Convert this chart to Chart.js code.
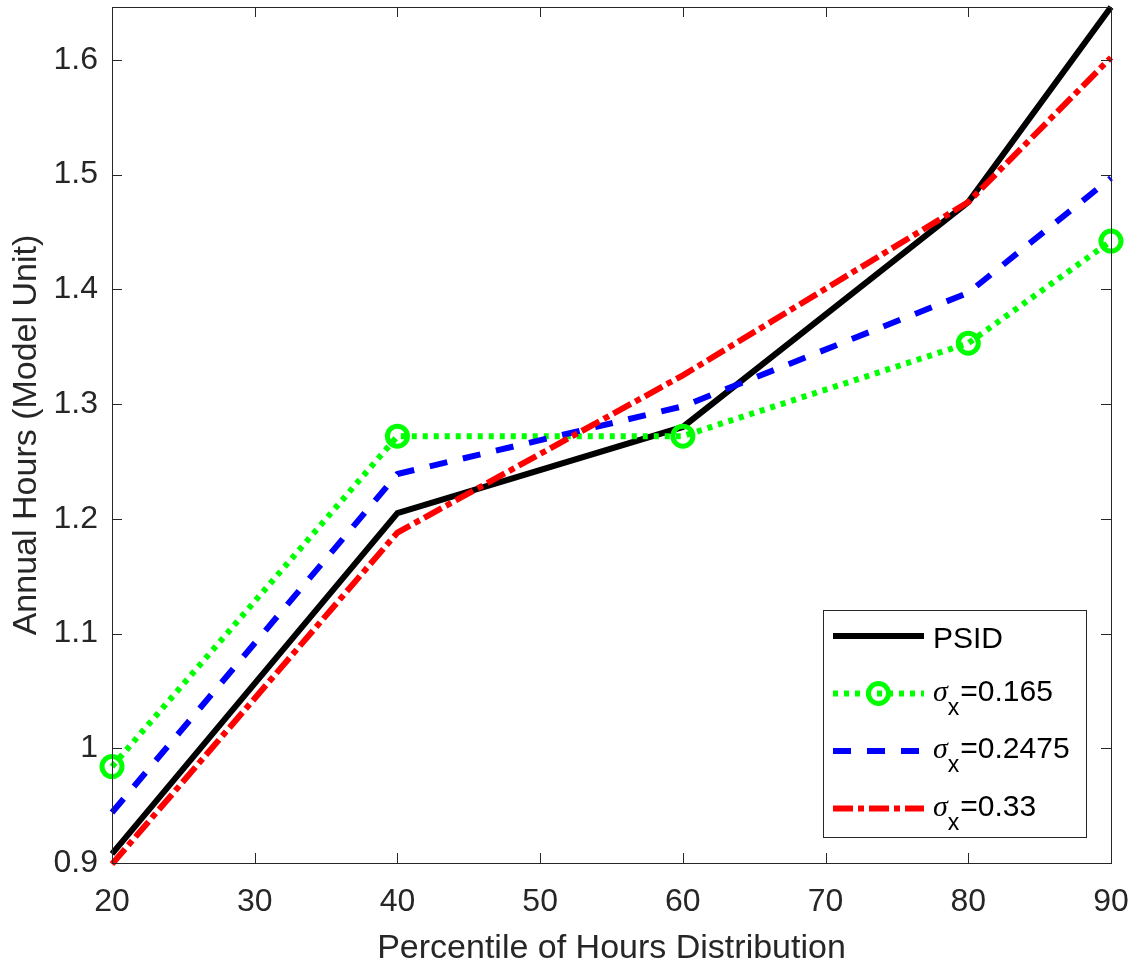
<!DOCTYPE html>
<html>
<head>
<meta charset="utf-8">
<script src="https://cdn.jsdelivr.net/npm/chart.js@4.4.0/dist/chart.umd.min.js"></script>
<style>
  html, body { margin: 0; padding: 0; background: #ffffff; }
  #wrap { width: 1135px; height: 969px; }
</style>
</head>
<body>
<div id="wrap"><canvas id="hoursChart" width="1135" height="969"></canvas></div>
<script>
// Percentiles of the hours distribution (x axis)
const percentiles = [20, 40, 60, 80, 90];

// Annual hours, model units
const psidHours = [0.908, 1.205, 1.280, 1.476, 1.646];
const sigma0165Hours = [0.984, 1.272, 1.272, 1.353, 1.442];
const sigma02475Hours = [0.944, 1.239, 1.298, 1.397, 1.497];
const sigma033Hours = [0.899, 1.188, 1.325, 1.476, 1.602];

// Tick labels
const xTicks = [20, 30, 40, 50, 60, 70, 80, 90];
const yTicks = [0.9, 1.0, 1.1, 1.2, 1.3, 1.4, 1.5, 1.6];

// Legend names (sigma entries get a subscript x when drawn)
const seriesNames = ['PSID', '\u03c3x=0.165', '\u03c3x=0.2475', '\u03c3x=0.33'];

const axisColor = '#262626';
const sansFont = '"Liberation Sans", Arial, Helvetica, sans-serif';

// turn the two arrays into {x, y} points
function toPoints(values) {
    return percentiles.map((p, i) => ({ x: p, y: values[i] }));
}

// Box round the plot, with the ticks pointing inwards on all 4 sides
const boxPlugin = {
    id: 'matlabBox',
    afterDraw(chart) {
        const ctx = chart.ctx;
        const area = chart.chartArea;
        const xs = chart.scales.x;
        const ys = chart.scales.y;
        const tickLen = 10;

        ctx.save();
        ctx.strokeStyle = axisColor;
        ctx.lineWidth = 1;
        ctx.setLineDash([]);
        ctx.strokeRect(area.left + 0.5, area.top + 0.5, area.right - area.left, area.bottom - area.top);

        ctx.beginPath();
        xTicks.forEach(v => {
            const px = Math.round(xs.getPixelForValue(v)) + 0.5;
            ctx.moveTo(px, area.bottom);
            ctx.lineTo(px, area.bottom - tickLen);
            ctx.moveTo(px, area.top);
            ctx.lineTo(px, area.top + tickLen);
        });
        yTicks.forEach(v => {
            const py = Math.round(ys.getPixelForValue(v)) + 0.5;
            ctx.moveTo(area.left, py);
            ctx.lineTo(area.left + tickLen, py);
            ctx.moveTo(area.right, py);
            ctx.lineTo(area.right - tickLen, py);
        });
        ctx.stroke();
        ctx.restore();
    }
};

// Legend in the lower right corner, drawn by hand because of the subscripts
const legendPlugin = {
    id: 'boxLegend',
    afterDraw(chart) {
        const ctx = chart.ctx;
        const area = chart.chartArea;
        const boxRight = area.right - 25;
        const boxBottom = area.bottom - 26;
        const boxLeft = boxRight - 263;
        const boxTop = boxBottom - 227;

        ctx.save();
        ctx.fillStyle = '#ffffff';
        ctx.fillRect(boxLeft, boxTop, boxRight - boxLeft, boxBottom - boxTop);
        ctx.strokeStyle = axisColor;
        ctx.lineWidth = 1;
        ctx.setLineDash([]);
        ctx.strokeRect(boxLeft + 0.5, boxTop + 0.5, boxRight - boxLeft, boxBottom - boxTop);

        chart.data.datasets.forEach((ds, i) => {
            const rowY = boxTop + 26 + i * 57.5;
            const lineStart = boxLeft + 10;
            const lineEnd = boxLeft + 101;

            // sample of the line
            ctx.beginPath();
            ctx.setLineDash(ds.borderDash || []);
            ctx.lineWidth = ds.borderWidth;
            ctx.strokeStyle = ds.borderColor;
            ctx.lineCap = 'butt';
            ctx.moveTo(lineStart, rowY);
            ctx.lineTo(lineEnd, rowY);
            ctx.stroke();

            if (ds.pointRadius > 0) {
                ctx.beginPath();
                ctx.setLineDash([]);
                ctx.lineWidth = ds.pointBorderWidth;
                ctx.strokeStyle = ds.pointBorderColor;
                ctx.arc((lineStart + lineEnd) / 2, rowY, ds.pointRadius, 0, Math.PI * 2);
                ctx.stroke();
            }

            // the label text
            ctx.fillStyle = '#000000';
            ctx.textAlign = 'left';
            ctx.textBaseline = 'alphabetic';
            let tx = boxLeft + 110;
            const label = ds.label;
            if (label.charAt(0) === '\u03c3') {
                const base = rowY + 7;
                ctx.font = 'italic 30px "Liberation Serif", serif';
                ctx.fillText('\u03c3', tx, base);
                tx += ctx.measureText('\u03c3').width;
                ctx.font = '23px ' + sansFont;
                ctx.fillText('x', tx, base + 14);
                tx += ctx.measureText('x').width + 1;
                ctx.font = '30px ' + sansFont;
                ctx.fillText(label.slice(2), tx, base);
            } else {
                ctx.font = '30px ' + sansFont;
                ctx.fillText(label, tx, rowY + 12);
            }
        });
        ctx.restore();
    }
};

const hoursChart = new Chart(document.getElementById('hoursChart'), {
    type: 'line',
    data: {
        datasets: [
            {
                label: seriesNames[0],
                data: toPoints(psidHours),
                borderColor: '#000000',
                borderWidth: 6,
                pointRadius: 0,
                order: 4,
                clip: false
            },
            {
                label: seriesNames[1],
                data: toPoints(sigma0165Hours),
                borderColor: '#00ff00',
                borderWidth: 6,
                borderDash: [5, 6],
                pointRadius: 10,
                pointBorderWidth: 5,
                pointBorderColor: '#00ff00',
                pointBackgroundColor: 'rgba(0,0,0,0)',
                order: 3,
                clip: false
            },
            {
                label: seriesNames[2],
                data: toPoints(sigma02475Hours),
                borderColor: '#0000ff',
                borderWidth: 6,
                borderDash: [18, 16],
                pointRadius: 0,
                order: 2,
                clip: false
            },
            {
                label: seriesNames[3],
                data: toPoints(sigma033Hours),
                borderColor: '#ff0000',
                borderWidth: 6,
                borderDash: [20, 5, 6, 5],
                pointRadius: 0,
                order: 1,
                clip: false
            }
        ]
    },
    options: {
        responsive: false,
        animation: false,
        devicePixelRatio: 1,
        layout: { autoPadding: false, padding: { left: 0, right: 24, top: 7, bottom: 0 } },
        elements: { line: { tension: 0, borderCapStyle: 'butt', borderJoinStyle: 'miter' } },
        plugins: {
            legend: { display: false },
            tooltip: { enabled: false }
        },
        scales: {
            x: {
                type: 'linear',
                min: 20,
                max: 90,
                afterBuildTicks: scale => { scale.ticks = xTicks.map(v => ({ value: v })); },
                afterFit: scale => {
                    scale.height = 106;
                    scale.paddingLeft = 0;
                    scale.paddingRight = 0;
                },
                grid: { display: false, drawTicks: false },
                border: { display: false },
                ticks: {
                    padding: 20,
                    color: axisColor,
                    font: { family: sansFont, size: 32 },
                    callback: v => String(v)
                },
                title: {
                    display: true,
                    text: 'Percentile of Hours Distribution',
                    color: axisColor,
                    font: { family: sansFont, size: 34 },
                    padding: { top: 0, bottom: 0 }
                }
            },
            y: {
                type: 'linear',
                min: 0.9,
                max: 1.646,
                afterBuildTicks: scale => { scale.ticks = yTicks.map(v => ({ value: v })); },
                afterFit: scale => {
                    scale.width = 112;
                    scale.paddingTop = 0;
                    scale.paddingBottom = 0;
                },
                grid: { display: false, drawTicks: false },
                border: { display: false },
                ticks: {
                    padding: 14,
                    color: axisColor,
                    font: { family: sansFont, size: 32 },
                    callback: v => String(Math.round(v * 10) / 10)
                },
                title: {
                    display: true,
                    text: 'Annual Hours (Model Unit)',
                    color: axisColor,
                    font: { family: sansFont, size: 34 },
                    padding: { top: 6, bottom: 0 }
                }
            }
        }
    },
    plugins: [boxPlugin, legendPlugin]
});
</script>
</body>
</html>
